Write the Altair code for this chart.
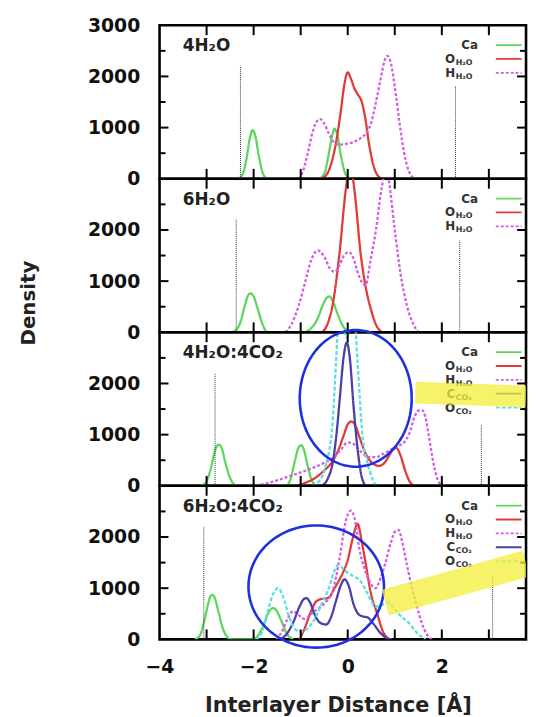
import altair as alt
import pandas as pd
import numpy as np

X_MIN, X_MAX = -4.0, 3.79
Y_MAX = 3000
W, H = 370, 155

SERIES = ["Ca", "O_H2O", "H_H2O", "C_CO2", "O_CO2"]
COLORS = ["#5ed65e", "#e03a3a", "#d060e0", "#4a3fa8", "#5fdede"]
DASHES = [[1, 0], [1, 0], [3, 2], [1, 0], [4, 2]]

panel_titles = ["4H₂O", "6H₂O", "4H₂O:4CO₂", "6H₂O:4CO₂"]

# ---------------- Panel 1: 4H2O ----------------
p1_ca_x = [-2.35, -2.25, -2.15, -2.08, -2.02, -1.96, -1.89, -1.8, -1.7,
           -0.62, -0.5, -0.4, -0.33, -0.28, -0.22, -0.15, -0.05, 0.05]
p1_ca_y = [0, 60, 400, 800, 950, 820, 450, 100, 0,
           0, 100, 500, 850, 980, 850, 480, 100, 0]
p1_oh_x = [-0.58, -0.45, -0.35, -0.25, -0.15, -0.07, 0.0, 0.07, 0.15, 0.22, 0.3, 0.37, 0.45, 0.55, 0.65, 0.75]
p1_oh_y = [0, 80, 300, 700, 1300, 1850, 2080, 1950, 1750, 1640, 1500, 1200, 700, 250, 50, 0]
p1_hh_x = [-1.05, -0.95, -0.85, -0.75, -0.65, -0.58, -0.5, -0.4, -0.3, -0.18, -0.05, 0.1, 0.25,
           0.38, 0.5, 0.6, 0.7, 0.78, 0.84, 0.92, 1.0, 1.1, 1.2, 1.3, 1.43]
p1_hh_y = [0, 150, 500, 900, 1130, 1165, 1080, 880, 720, 665, 680, 710, 780,
           880, 1100, 1500, 1950, 2300, 2400, 2250, 1800, 1100, 500, 150, 0]
p1_vlines = [(-2.28, 2205), (2.29, 1818)]

# ---------------- Panel 2: 6H2O ----------------
p2_ca_x = [-2.48, -2.38, -2.28, -2.18, -2.12, -2.07, -2.0, -1.92, -1.82, -1.7,
           -0.95, -0.8, -0.65, -0.52, -0.44, -0.39, -0.32, -0.22, -0.1, 0.03]
p2_ca_y = [0, 40, 200, 550, 720, 760, 700, 480, 180, 0,
           0, 60, 250, 550, 680, 700, 620, 370, 120, 0]
p2_oh_x = [-0.55, -0.45, -0.32, -0.18, -0.04, 0.05, 0.14, 0.28, 0.4, 0.49, 0.6, 0.73]
p2_oh_y = [0, 120, 540, 1500, 2800, 3300, 2800, 1500, 800, 460, 150, 0]
p2_hh_x = [-1.32, -1.2, -1.05, -0.9, -0.78, -0.64, -0.5, -0.38, -0.28, -0.18, -0.08, 0.02, 0.12,
           0.22, 0.3, 0.38, 0.49, 0.6, 0.7, 0.77, 0.82, 0.87, 1.0, 1.12, 1.26, 1.4, 1.5]
p2_hh_y = [0, 150, 500, 1000, 1400, 1600, 1480, 1250, 1180, 1300, 1500, 1567, 1450,
           1150, 980, 922, 1440, 2000, 2700, 3050, 3250, 3000, 2000, 1160, 515, 150, 0]
p2_vlines = [(-2.37, 2210), (2.38, 1793)]

# ---------------- Panel 3: 4H2O:4CO2 ----------------
p3_ca_x = [-3.14, -3.02, -2.92, -2.84, -2.78, -2.74, -2.68, -2.6, -2.5, -2.35,
           -1.32, -1.22, -1.12, -1.04, -0.99, -0.93, -0.85, -0.76, -0.66]
p3_ca_y = [0, 60, 300, 620, 780, 806, 740, 450, 150, 0,
           0, 120, 500, 760, 793, 700, 380, 100, 0]
p3_oh_x = [-1.1, -0.9, -0.7, -0.5, -0.32, -0.2, -0.08, 0.0, 0.08, 0.16, 0.25, 0.35, 0.45, 0.56,
           0.66, 0.76, 0.86, 0.95, 1.03, 1.12, 1.22, 1.32, 1.42]
p3_oh_y = [0, 60, 150, 300, 483, 700, 1000, 1200, 1257, 1180, 950, 700, 520, 420,
           390, 430, 560, 700, 740, 600, 300, 80, 0]
p3_hh_x = [-1.95, -1.6, -1.2, -0.8, -0.5, -0.32, -0.15, 0.0, 0.15, 0.3, 0.45, 0.6, 0.75, 0.9,
           1.05, 1.2, 1.32, 1.42, 1.5, 1.58, 1.65, 1.72, 1.8, 1.9, 2.0]
p3_hh_y = [0, 80, 200, 330, 450, 548, 700, 850, 800, 650, 560, 560, 620, 700,
           770, 850, 1050, 1350, 1470, 1480, 1350, 1000, 550, 150, 0]
p3_cc_x = [-0.55, -0.42, -0.32, -0.24, -0.16, -0.09, -0.02, 0.05, 0.12, 0.2, 0.28, 0.38]
p3_cc_y = [0, 150, 450, 1000, 1800, 2500, 2800, 2450, 1600, 800, 250, 0]
p3_oc_x = [-0.75, -0.6, -0.46, -0.32, -0.25, -0.19, -0.1, -0.03, 0.05, 0.14, 0.21, 0.31, 0.42, 0.52, 0.6]
p3_oc_y = [0, 100, 420, 1260, 2400, 3300, 3100, 2900, 3100, 3300, 2400, 1000, 450, 150, 0]
p3_vlines = [(-2.82, 2190), (2.84, 1193)]

# ---------------- Panel 4: 6H2O:4CO2 ----------------
p4_ca_x = [-3.25, -3.14, -3.04, -2.96, -2.92, -2.88, -2.83, -2.75, -2.65, -2.48,
           -2.02, -1.9, -1.78, -1.68, -1.62, -1.58, -1.52, -1.42, -1.3, -1.16]
p4_ca_y = [0, 80, 400, 720, 840, 870, 820, 550, 200, 0,
           0, 80, 300, 530, 600, 613, 570, 380, 120, 0]
p4_oh_x = [-1.02, -0.9, -0.78, -0.67, -0.55, -0.45, -0.38, -0.28, -0.18, -0.08, 0.0, 0.1, 0.21,
           0.3, 0.38, 0.49, 0.62, 0.75, 0.88]
p4_oh_y = [0, 250, 550, 741, 790, 800, 838, 1000, 1160, 1350, 1547, 1950, 2257,
           1900, 1490, 909, 520, 150, 0]
p4_hh_x = [-1.52, -1.4, -1.28, -1.16, -1.05, -0.92, -0.75, -0.6, -0.46, -0.32, -0.18, -0.04, 0.07,
           0.16, 0.24, 0.35, 0.45, 0.59, 0.7, 0.8, 0.92, 1.0, 1.08, 1.16, 1.26, 1.36, 1.47, 1.57, 1.68, 1.79]
p4_hh_y = [0, 150, 400, 548, 480, 400, 520, 620, 735, 950, 1550, 2320, 2515,
           2300, 1805, 1400, 1160, 1000, 1200, 1490, 1900, 2100, 2140, 1900, 1450, 1030, 650, 330, 100, 0]
p4_cc_x = [-1.45, -1.3, -1.15, -1.02, -0.94, -0.88, -0.8, -0.7, -0.58, -0.46, -0.36, -0.25, -0.15,
           -0.07, 0.02, 0.12, 0.22, 0.31, 0.42, 0.55, 0.7, 0.82, 0.94]
p4_cc_y = [0, 100, 350, 650, 780, 806, 720, 480, 320, 290, 420, 750, 1050,
           1173, 1050, 700, 500, 451, 430, 300, 120, 30, 0]
p4_oc_x = [-1.95, -1.82, -1.7, -1.58, -1.48, -1.38, -1.25, -1.12, -1.0, -0.85, -0.7, -0.55, -0.39,
           -0.28, -0.21, -0.12, 0.0, 0.14, 0.26, 0.38, 0.5, 0.59, 0.7, 0.8, 0.87, 0.95, 1.1, 1.29, 1.45, 1.65]
p4_oc_y = [0, 150, 550, 900, 1000, 850, 450, 200, 150, 220, 400, 700, 1030,
           1350, 1450, 1400, 1300, 1225, 1150, 967, 750, 645, 650, 710, 722, 650, 480, 330, 150, 0]
p4_vlines = [(-3.06, 2190), (3.08, 1225)]

panel_series = [
    {"Ca": (p1_ca_x, p1_ca_y), "O_H2O": (p1_oh_x, p1_oh_y), "H_H2O": (p1_hh_x, p1_hh_y)},
    {"Ca": (p2_ca_x, p2_ca_y), "O_H2O": (p2_oh_x, p2_oh_y), "H_H2O": (p2_hh_x, p2_hh_y)},
    {"Ca": (p3_ca_x, p3_ca_y), "O_H2O": (p3_oh_x, p3_oh_y), "H_H2O": (p3_hh_x, p3_hh_y),
     "C_CO2": (p3_cc_x, p3_cc_y), "O_CO2": (p3_oc_x, p3_oc_y)},
    {"Ca": (p4_ca_x, p4_ca_y), "O_H2O": (p4_oh_x, p4_oh_y), "H_H2O": (p4_hh_x, p4_hh_y),
     "C_CO2": (p4_cc_x, p4_cc_y), "O_CO2": (p4_oc_x, p4_oc_y)},
]
panel_vlines = [p1_vlines, p2_vlines, p3_vlines, p4_vlines]

legend_labels = {"Ca": ("Ca", ""), "O_H2O": ("O", "H₂O"), "H_H2O": ("H", "H₂O"),
                 "C_CO2": ("C", "CO₂"), "O_CO2": ("O", "CO₂")}

ellipses = {2: (0.17, 1709, 1.19, 1335), 3: (-0.67, 1032, 1.44, 1194)}
bands = {2: ((1.44, 1820), (3.79, 1748), 22), 3: ((0.80, 716), (3.79, 1480), 27)}

x_ticks = [-3, -2, -1, 0, 1, 2, 3]
y_major = [1000, 2000]
y_minor = [500, 1500, 2500]

PXU = W / (X_MAX - X_MIN)


def px2x(px):
    return X_MIN + px / PXU


def py2y(py):
    return Y_MAX * (1 - py / H)


XS = alt.Scale(domain=[X_MIN, X_MAX], nice=False, zero=False)
YS = alt.Scale(domain=[0, Y_MAX], nice=False, zero=False)
CS = alt.Scale(domain=SERIES, range=COLORS)
DS = alt.Scale(domain=SERIES, range=DASHES)
FONT = "DejaVu Sans"


def make_panel(i):
    last = i == 3
    if last:
        xaxis = alt.Axis(values=[-4, -2, 0, 2], format="d", title="Interlayer Distance [Å]",
                         ticks=False, domain=False, grid=False, labelPadding=18, labelFlush=False,
                         titlePadding=19, titleFontSize=21, titleX=180)
    else:
        xaxis = None
    yvals = [0, 1000, 2000, 3000] if i == 0 else [0, 1000, 2000]
    if i == 1:
        yaxis = alt.Axis(values=yvals, format="d", title="Density", ticks=False, domain=False,
                         grid=False, labelPadding=20, labelFlush=False, titleX=-126.5, titleY=125,
                         titleAngle=-90, titleAlign="center", titleBaseline="alphabetic",
                         titleFontSize=20)
    else:
        yaxis = alt.Axis(values=yvals, format="d", title=None, ticks=False, domain=False,
                         grid=False, labelPadding=20, labelFlush=False)
    xtitle = "Interlayer Distance [Å]" if last else None
    ytitle = "Density" if i == 1 else None

    def X(f="x"):
        return alt.X(f + ":Q", scale=XS, axis=xaxis, title=xtitle)

    def Y(f="y"):
        return alt.Y(f + ":Q", scale=YS, axis=yaxis, title=ytitle)

    layers = []

    rows = []
    for s, (xs, ys) in panel_series[i].items():
        for k, (xx, yy) in enumerate(zip(xs, ys)):
            rows.append({"series": s, "x": xx, "y": yy, "k": k})
    df = pd.DataFrame(rows)
    layers.append(alt.Chart(df).mark_line(strokeWidth=2.3, interpolate="monotone", clip=True).encode(
        x=X(), y=Y(),
        color=alt.Color("series:N", scale=CS, legend=None),
        strokeDash=alt.StrokeDash("series:N", scale=DS, legend=None),
        detail="series:N", order="k:Q"))

    vdf = pd.DataFrame([{"x": vx, "y": 0.0, "y2": float(vt)} for vx, vt in panel_vlines[i]])
    layers.append(alt.Chart(vdf).mark_rule(color="#333333", strokeWidth=1, strokeDash=[1, 1]).encode(
        x=X(), y=Y(), y2="y2:Q"))

    # inward ticks
    tl = 10 / H * Y_MAX
    vt = []
    for t in x_ticks:
        vt.append({"x": float(t), "y": 0.0, "y2": tl})
        vt.append({"x": float(t), "y": Y_MAX - tl, "y2": float(Y_MAX)})
    layers.append(alt.Chart(pd.DataFrame(vt)).mark_rule(color="black", strokeWidth=2).encode(
        x=X(), y=Y(), y2="y2:Q"))
    ht = []
    for t in y_major + y_minor:
        ln = (9 if t in y_major else 6) / PXU
        ht.append({"x": X_MIN, "x2": X_MIN + ln, "y": float(t)})
        ht.append({"x": X_MAX - ln, "x2": X_MAX - 0.001, "y": float(t)})
    layers.append(alt.Chart(pd.DataFrame(ht)).mark_rule(color="black", strokeWidth=2).encode(
        x=X(), x2="x2:Q", y=Y()))

    ttl = pd.DataFrame([{"x": px2x(23.5), "y": py2y(26), "t": panel_titles[i]}])
    layers.append(alt.Chart(ttl).mark_text(align="left", baseline="alphabetic", font=FONT,
                                           fontWeight="bold", fontSize=17, color="#222").encode(
        x=X(), y=Y(), text="t:N"))

    lrows = []
    for r, s in enumerate(panel_series[i].keys()):
        py = 20 + 14 * r
        letter, sub = legend_labels[s]
        lrows.append({"series": s, "letter": letter, "sub": sub,
                      "xl": px2x(298.5 if sub else 321.5), "xs": px2x(299),
                      "y": py2y(py), "ys": py2y(py + 4),
                      "x": px2x(339.5), "x2": px2x(365.5)})
    ldf = pd.DataFrame(lrows)
    layers.append(alt.Chart(ldf).mark_text(align="right", baseline="middle", font=FONT,
                                           fontWeight="bold", fontSize=12, color="#333").encode(
        x=X("xl"), y=Y("y"), text="letter:N"))
    layers.append(alt.Chart(ldf).mark_text(align="left", baseline="middle", font=FONT,
                                           fontWeight="bold", fontSize=8, color="#333").encode(
        x=X("xs"), y=Y("ys"), text="sub:N"))
    layers.append(alt.Chart(ldf).mark_rule(strokeWidth=1.8).encode(
        x=X(), x2="x2:Q", y=Y(),
        color=alt.Color("series:N", scale=CS, legend=None),
        strokeDash=alt.StrokeDash("series:N", scale=DS, legend=None)))

    if i in ellipses:
        cx, cy, rx, ry = ellipses[i]
        th = np.linspace(0, 2 * np.pi, 121)
        edf = pd.DataFrame({"x": cx + rx * np.cos(th), "y": cy + ry * np.sin(th), "k": np.arange(121)})
        layers.append(alt.Chart(edf).mark_line(color="#1f2fe0", strokeWidth=2.6).encode(
            x=X(), y=Y(), order="k:Q"))

    if i in bands:
        (bx1, by1), (bx2, by2), bw = bands[i]
        bdf = pd.DataFrame({"x": [bx1, bx2], "y": [float(by1), float(by2)], "k": [0, 1]})
        layers.append(alt.Chart(bdf).mark_line(color="#f3ef3a", strokeWidth=bw, opacity=0.75,
                                               strokeCap="butt", clip=True).encode(
            x=X(), y=Y(), order="k:Q"))

    return alt.layer(*layers).properties(width=W, height=H)


chart = alt.vconcat(*[make_panel(i) for i in range(4)], spacing=0, bounds="flush").properties(
    padding={"left": 9, "top": 3, "right": 0, "bottom": 0},
    background="white",
).configure_view(stroke="black", strokeWidth=2.6).configure_axis(
    labelFont=FONT, labelFontWeight="bold", labelFontSize=19, labelColor="#111",
    titleFont=FONT, titleFontWeight="bold", titleColor="#222",
)

chart.save("out.html", embed_options={"renderer": "svg", "actions": False})
